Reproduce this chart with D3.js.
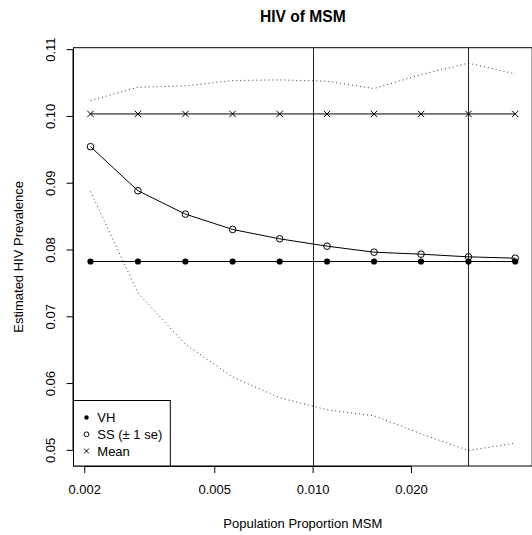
<!DOCTYPE html>
<html>
<head>
<meta charset="utf-8">
<script src="https://cdn.jsdelivr.net/npm/d3@7"></script>
<style>
html,body{margin:0;padding:0;background:#fff;}
svg{display:block;font-family:"Liberation Sans",Arial,Helvetica,sans-serif;}
</style>
</head>
<body>
<svg id="chart" width="532" height="535"></svg>
<script>
// ---- data ----
const proportions = [0.00209, 0.00292, 0.00408, 0.00569, 0.00793, 0.01107, 0.01542, 0.02147, 0.0300, 0.0417];
const vhValues    = [0.0782, 0.0782, 0.0782, 0.0782, 0.0782, 0.0782, 0.0782, 0.0782, 0.0782, 0.0782];
const ssValues    = [0.0954, 0.0888, 0.0853, 0.0830, 0.0816, 0.0805, 0.0796, 0.0793, 0.0789, 0.0787];
const ssUpper     = [0.1023, 0.1043, 0.1045, 0.1053, 0.1054, 0.1052, 0.1041, 0.1062, 0.1079, 0.1063];
const ssLower     = [0.0887, 0.0735, 0.0658, 0.0609, 0.0578, 0.0560, 0.0551, 0.0524, 0.0499, 0.0510];
const meanValues  = [0.1003, 0.1003, 0.1003, 0.1003, 0.1003, 0.1003, 0.1003, 0.1003, 0.1003, 0.1003];
const refLines    = [0.010, 0.030];
const xTicks      = [0.002, 0.005, 0.010, 0.020];
const xTickLabels = ["0.002", "0.005", "0.010", "0.020"];
const yTicks      = [0.05, 0.06, 0.07, 0.08, 0.09, 0.10, 0.11];
const yTickLabels = ["0.05", "0.06", "0.07", "0.08", "0.09", "0.10", "0.11"];
const legendLabels = ["VH", "SS (\u00b1 1 se)", "Mean"];
const titleText = "HIV of MSM";
const xTitle = "Population Proportion MSM";
const yTitle = "Estimated HIV Prevalence";

// ---- layout ----
const plot = {left: 73.5, right: 532.2, top: 47.7, bottom: 466};
const svg = d3.select("#chart");

// R-style 4% padding on log x and linear y
const lx0 = Math.log10(d3.min(proportions)), lx1 = Math.log10(d3.max(proportions));
const px = (lx1 - lx0) * 0.04;
const x = d3.scaleLog().domain([Math.pow(10, lx0 - px), Math.pow(10, lx1 + px)]).range([plot.left, plot.right]);
const allY = ssUpper.concat(ssLower, vhValues, ssValues, meanValues);
const y0 = d3.min(allY), y1 = d3.max(allY), py = (y1 - y0) * 0.04;
const y = d3.scaleLinear().domain([y0 - py, y1 + py]).range([plot.bottom, plot.top]);

const g = svg.append("g");
const clip = svg.append("clipPath").attr("id", "clip").append("rect")
  .attr("x", plot.left).attr("y", plot.top)
  .attr("width", plot.right - plot.left).attr("height", plot.bottom - plot.top);
const pg = g.append("g").attr("clip-path", "url(#clip)");

// reference vertical lines
pg.selectAll("line.ref").data(refLines).enter().append("line")
  .attr("x1", d => Math.round(x(d)) + 0.5).attr("x2", d => Math.round(x(d)) + 0.5)
  .attr("y1", plot.top).attr("y2", plot.bottom)
  .attr("stroke", "#222").attr("stroke-width", 1);

const line = vals => d3.line().x((d, i) => x(proportions[i])).y(d => y(d))(vals);

// dotted +/- 1 se lines
[ssUpper, ssLower].forEach(vals => {
  pg.append("path").attr("d", line(vals)).attr("fill", "none")
    .attr("stroke", "#333").attr("stroke-width", 1).attr("stroke-dasharray", "1,3");
});

// solid lines
[vhValues, ssValues, meanValues].forEach(vals => {
  pg.append("path").attr("d", line(vals)).attr("fill", "none")
    .attr("stroke", "#000").attr("stroke-width", 1);
});

// points
pg.selectAll("circle.vh").data(vhValues).enter().append("circle")
  .attr("cx", (d, i) => x(proportions[i])).attr("cy", d => y(d)).attr("r", 3.1)
  .attr("fill", "#000");
pg.selectAll("circle.ss").data(ssValues).enter().append("circle")
  .attr("cx", (d, i) => x(proportions[i])).attr("cy", d => y(d)).attr("r", 3.3)
  .attr("fill", "none").attr("stroke", "#000").attr("stroke-width", 1);
const cross = (sel, cx, cy, s) => {
  sel.append("path").attr("d", `M${cx - s},${cy - s}L${cx + s},${cy + s}M${cx - s},${cy + s}L${cx + s},${cy - s}`)
    .attr("stroke", "#000").attr("stroke-width", 1).attr("fill", "none");
};
meanValues.forEach((d, i) => cross(pg, x(proportions[i]), y(d), 3.2));

// plot box
g.append("rect").attr("x", plot.left).attr("y", plot.top)
  .attr("width", plot.right - plot.left).attr("height", plot.bottom - plot.top)
  .attr("fill", "none").attr("stroke", "#000").attr("stroke-width", 1);

// x axis
const xAxis = d3.axisBottom(x).tickValues(xTicks).tickFormat((d, i) => xTickLabels[i])
  .tickSize(7).tickSizeOuter(0).tickPadding(12);
const xa = g.append("g").attr("transform", `translate(0,${plot.bottom})`).call(xAxis);
xa.select(".domain").attr("d", `M${x(xTicks[0])},0.5H${x(xTicks[xTicks.length - 1])}`).attr("stroke", "#000");
xa.selectAll(".tick text").attr("font-size", 13).attr("fill", "#000")
  .attr("font-family", "'Liberation Sans',Arial,sans-serif");
xa.selectAll(".tick line").attr("stroke", "#000");

// y axis
const yAxis = d3.axisLeft(y).tickValues(yTicks).tickFormat((d, i) => yTickLabels[i])
  .tickSize(7).tickSizeOuter(0).tickPadding(12);
const ya = g.append("g").attr("transform", `translate(${plot.left},0)`).call(yAxis);
ya.select(".domain").attr("d", `M-0.5,${y(yTicks[0])}V${y(yTicks[yTicks.length - 1])}`).attr("stroke", "#000");
ya.selectAll(".tick line").attr("stroke", "#000");
ya.selectAll(".tick text")
  .attr("font-size", 13).attr("fill", "#000")
  .attr("font-family", "'Liberation Sans',Arial,sans-serif")
  .attr("x", null).attr("dy", null)
  .attr("text-anchor", "middle")
  .attr("transform", "translate(-18.5,0) rotate(-90)");

// titles
svg.append("text").attr("x", (plot.left + plot.right) / 2).attr("y", 21.5)
  .attr("text-anchor", "middle").attr("font-weight", "bold").attr("font-size", 15.6)
  .text(titleText);
svg.append("text").attr("x", (plot.left + plot.right) / 2).attr("y", 527.5)
  .attr("text-anchor", "middle").attr("font-size", 13).text(xTitle);
svg.append("text")
  .attr("transform", `translate(23.3,${(plot.top + plot.bottom) / 2}) rotate(-90)`)
  .attr("text-anchor", "middle").attr("font-size", 13).text(yTitle);

// legend
const lg = g.append("g");
lg.append("rect").attr("x", plot.left).attr("y", 400.5).attr("width", 170.3 - plot.left).attr("height", plot.bottom - 400.5)
  .attr("fill", "#fff").attr("stroke", "#000").attr("stroke-width", 1);
const legY = [417.5, 434.3, 451];
const symX = 86.5;
lg.append("circle").attr("cx", symX).attr("cy", legY[0]).attr("r", 2.2).attr("fill", "#000");
lg.append("circle").attr("cx", symX).attr("cy", legY[1]).attr("r", 2.4).attr("fill", "none").attr("stroke", "#000");
cross(lg, symX, legY[2], 2.4);
legendLabels.forEach((t, i) => {
  lg.append("text").attr("x", 97.3).attr("y", legY[i]).attr("dy", "0.35em")
    .attr("font-size", 13).text(t);
});
</script>
</body>
</html>
